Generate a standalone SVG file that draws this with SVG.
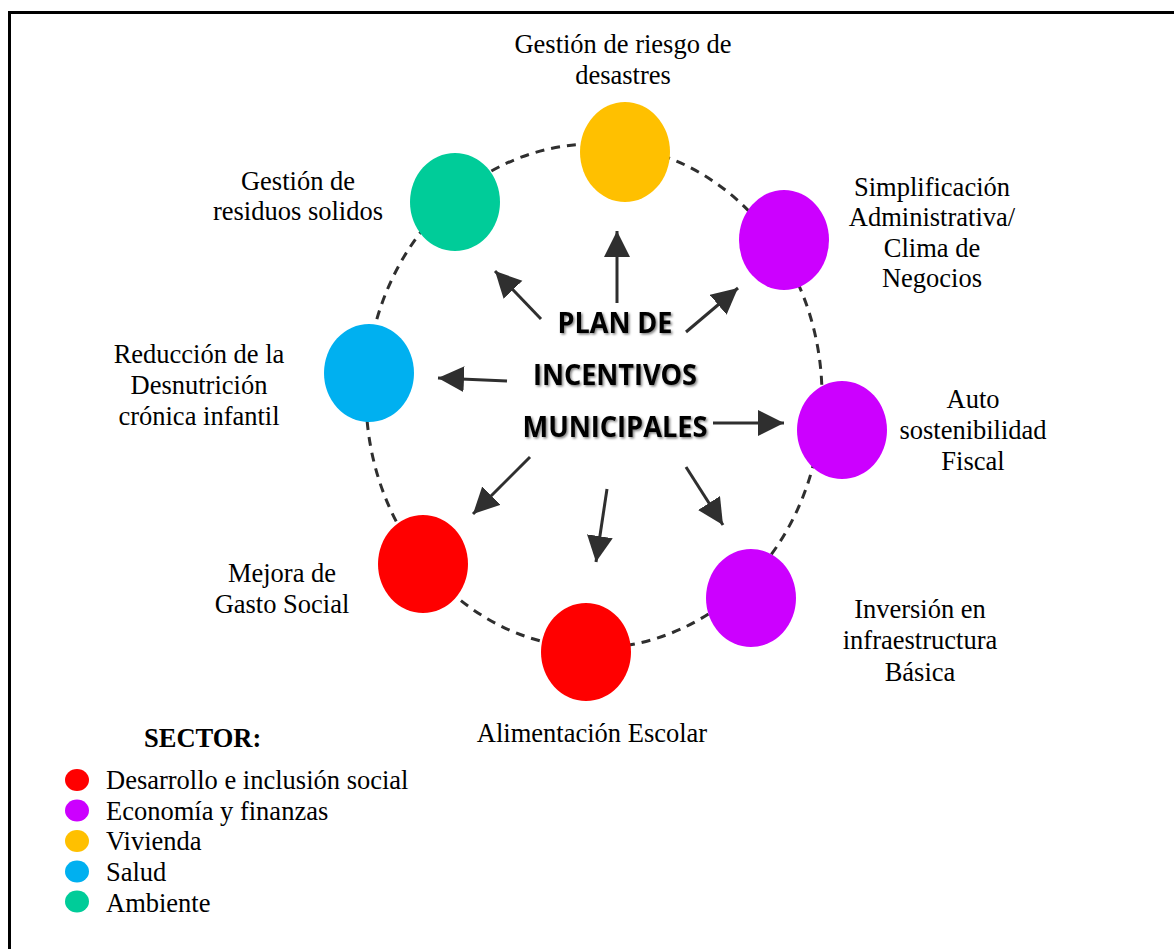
<svg xmlns="http://www.w3.org/2000/svg" width="1174" height="949" viewBox="0 0 1174 949">
<style>
.lbl{font-family:"Liberation Serif","Times New Roman",serif;font-size:26.5px;fill:#000;text-anchor:middle}
.leg{font-family:"Liberation Serif","Times New Roman",serif;font-size:26.5px;fill:#000}
.ttl{font-family:"Open Sans","Liberation Sans",sans-serif;font-weight:bold;font-size:29px;fill:#000;text-anchor:middle}
.arr{stroke:#2f2f2f;stroke-width:3;fill:none;marker-end:url(#ah)}
.ring{fill:none;stroke:#2f2f2f;stroke-width:3;stroke-dasharray:9 7}
</style>
<defs>
<marker id="ah" markerUnits="userSpaceOnUse" markerWidth="27" markerHeight="27" refX="26" refY="13" orient="auto">
<path d="M0,0 L26,13 L0,26 z" fill="#2f2f2f"/>
</marker>
<filter id="sh" x="-10%" y="-20%" width="120%" height="150%">
<feDropShadow dx="1.5" dy="1.5" stdDeviation="1.2" flood-color="#000" flood-opacity="0.5"/>
</filter>
</defs>
<rect x="9.5" y="12.5" width="1200" height="1000" fill="#fff" stroke="#000" stroke-width="3"/>
<g id="connectors">
<ellipse class="ring" cx="594" cy="396" rx="228" ry="252"/>
<line class="arr" x1="617" y1="303" x2="617" y2="231"/>
<line class="arr" x1="541" y1="319" x2="495" y2="271"/>
<line class="arr" x1="686" y1="332" x2="738" y2="288"/>
<line class="arr" x1="507" y1="381" x2="438" y2="378"/>
<line class="arr" x1="713" y1="423" x2="784" y2="423"/>
<line class="arr" x1="530" y1="457" x2="473" y2="514"/>
<line class="arr" x1="607" y1="489" x2="596" y2="562"/>
<line class="arr" x1="686" y1="467" x2="723" y2="525"/>
</g>
<g id="center" filter="url(#sh)">
<text class="ttl" x="615" y="333" textLength="115" lengthAdjust="spacingAndGlyphs">PLAN DE</text>
<text class="ttl" x="615" y="385" textLength="164" lengthAdjust="spacingAndGlyphs">INCENTIVOS</text>
<text class="ttl" x="615" y="437" textLength="185" lengthAdjust="spacingAndGlyphs">MUNICIPALES</text>
</g>
<g id="n-riesgo">
<ellipse cx="625" cy="152" rx="45" ry="50" fill="#FFC000"/>
<text class="lbl" x="623" y="53">Gestión de riesgo de</text>
<text class="lbl" x="623" y="84">desastres</text>
</g>
<g id="n-residuos">
<ellipse cx="455" cy="202" rx="45" ry="49" fill="#00CC99"/>
<text class="lbl" x="298" y="190">Gestión de</text>
<text class="lbl" x="298" y="220">residuos solidos</text>
</g>
<g id="n-simplificacion">
<ellipse cx="784" cy="240" rx="45" ry="50" fill="#CC00FF"/>
<text class="lbl" x="932" y="196">Simplificación</text>
<text class="lbl" x="932" y="226">Administrativa/</text>
<text class="lbl" x="932" y="257">Clima de</text>
<text class="lbl" x="932" y="287">Negocios</text>
</g>
<g id="n-desnutricion">
<ellipse cx="369" cy="373" rx="45" ry="49" fill="#00B0F0"/>
<text class="lbl" x="199" y="363">Reducción de la</text>
<text class="lbl" x="199" y="394">Desnutrición</text>
<text class="lbl" x="199" y="425">crónica infantil</text>
</g>
<g id="n-fiscal">
<ellipse cx="842" cy="430" rx="45" ry="49" fill="#CC00FF"/>
<text class="lbl" x="973" y="408">Auto</text>
<text class="lbl" x="973" y="439">sostenibilidad</text>
<text class="lbl" x="973" y="470">Fiscal</text>
</g>
<g id="n-gasto">
<ellipse cx="423" cy="564" rx="45" ry="49" fill="#FF0000"/>
<text class="lbl" x="282" y="582">Mejora de</text>
<text class="lbl" x="282" y="613">Gasto Social</text>
</g>
<g id="n-alimentacion">
<ellipse cx="586" cy="652" rx="45" ry="49" fill="#FF0000"/>
<text class="lbl" x="592" y="742">Alimentación Escolar</text>
</g>
<g id="n-inversion">
<ellipse cx="751" cy="598" rx="45" ry="49" fill="#CC00FF"/>
<text class="lbl" x="920" y="618">Inversión en</text>
<text class="lbl" x="920" y="649">infraestructura</text>
<text class="lbl" x="920" y="681">Básica</text>
</g>
<g id="legend">
<text class="leg" x="144" y="747" font-weight="bold">SECTOR:</text>
<ellipse cx="77" cy="780" rx="12" ry="11" fill="#FF0000"/>
<text class="leg" x="106" y="789">Desarrollo e inclusión social</text>
<ellipse cx="77" cy="810.5" rx="12" ry="11" fill="#CC00FF"/>
<text class="leg" x="106" y="820">Economía y finanzas</text>
<ellipse cx="77" cy="841" rx="12" ry="11" fill="#FFC000"/>
<text class="leg" x="106" y="850">Vivienda</text>
<ellipse cx="77" cy="871.5" rx="12" ry="11" fill="#00B0F0"/>
<text class="leg" x="106" y="881">Salud</text>
<ellipse cx="77" cy="901.5" rx="12" ry="11" fill="#00CC99"/>
<text class="leg" x="106" y="912">Ambiente</text>
</g>
</svg>
